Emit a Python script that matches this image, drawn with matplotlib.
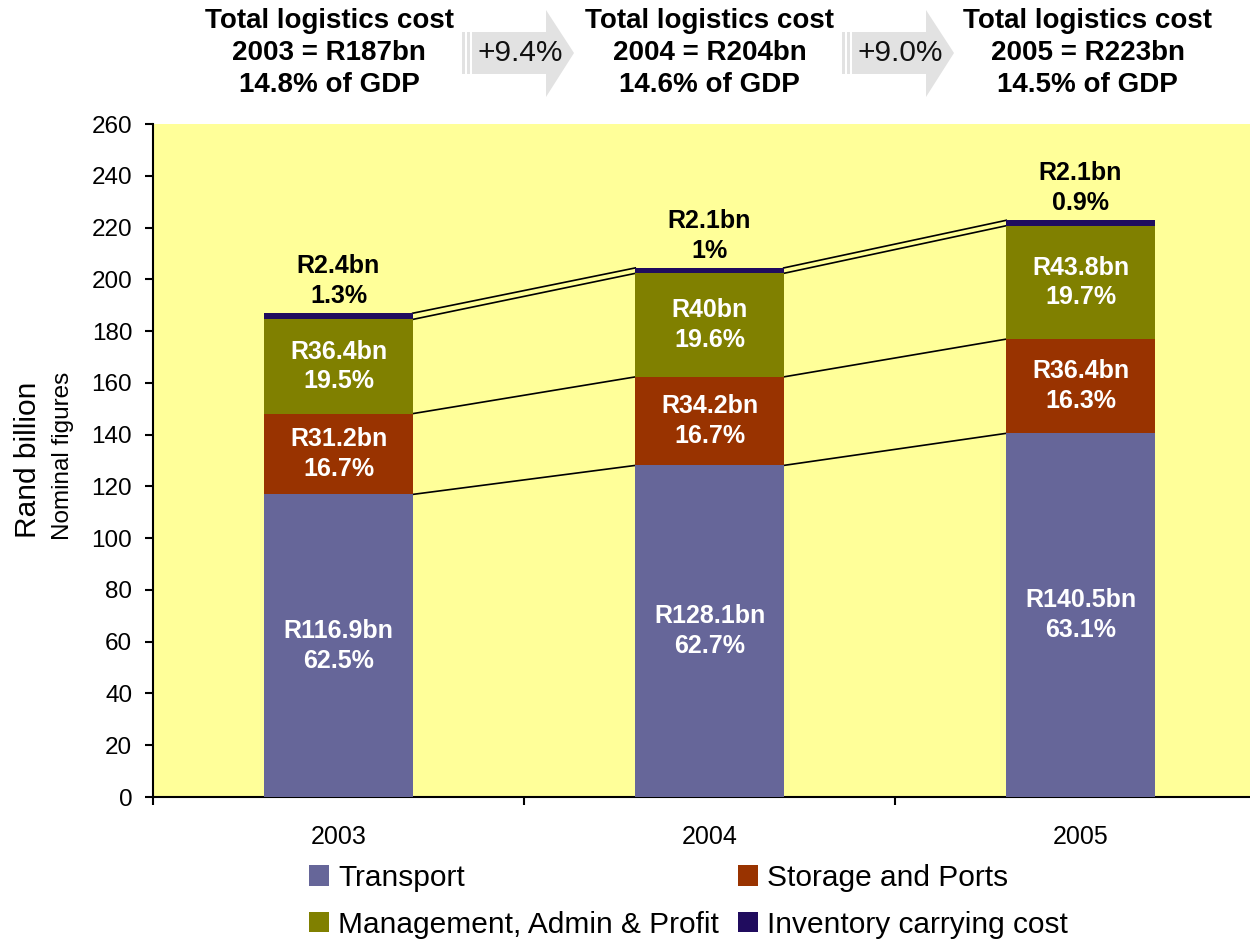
import numpy as np
import matplotlib
matplotlib.use('Agg')
import matplotlib.pyplot as plt
from matplotlib.patches import Polygon, Rectangle, Patch
from matplotlib.transforms import blended_transform_factory

plt.rcParams['font.family'] = ['Liberation Sans', 'DejaVu Sans']

# data
years = ['2003', '2004', '2005']
transport = [116.9, 128.1, 140.5]
storage = [31.2, 34.2, 36.4]
management = [36.4, 40.0, 43.8]
inventory = [2.4, 2.1, 2.1]

transport_lbl = ['R116.9bn\n62.5%', 'R128.1bn\n62.7%', 'R140.5bn\n63.1%']
storage_lbl = ['R31.2bn\n16.7%', 'R34.2bn\n16.7%', 'R36.4bn\n16.3%']
management_lbl = ['R36.4bn\n19.5%', 'R40bn\n19.6%', 'R43.8bn\n19.7%']
inventory_lbl = ['R2.4bn\n1.3%', 'R2.1bn\n1%', 'R2.1bn\n0.9%']

header_lbl = ['Total logistics cost\n2003 = R187bn\n14.8% of GDP',
              'Total logistics cost\n2004 = R204bn\n14.6% of GDP',
              'Total logistics cost\n2005 = R223bn\n14.5% of GDP']
growth_lbl = ['+9.4%', '+9.0%']

series_names = ['Transport', 'Storage and Ports',
                'Management, Admin & Profit', 'Inventory carrying cost']
colors = ['#666699', '#993300', '#808000', '#200C5E']

W, H = 1250, 940
fig = plt.figure(figsize=(W / 100, H / 100), dpi=100)
ax = fig.add_axes([153 / W, 1 - 797 / H, 1113 / W, 673 / H])
ax.set_facecolor('#FFFF99')

x = np.arange(len(years))
bw = 0.4
stacks = [transport, storage, management, inventory]
bottoms = np.zeros(len(years))
tops = []
for vals, col in zip(stacks, colors):
    vals = np.array(vals)
    ax.bar(x, vals, bw, bottom=bottoms, color=col, edgecolor='none', zorder=3)
    bottoms = bottoms + vals
    tops.append(bottoms.copy())

# labels inside segments
base = np.zeros(len(years))
for vals, lbls in zip(stacks[:3], [transport_lbl, storage_lbl, management_lbl]):
    for i in range(len(years)):
        ax.text(x[i], base[i] + vals[i] / 2, lbls[i], ha='center', va='center',
                color='white', fontsize=18, fontweight='bold', linespacing=1.3,
                zorder=4)
    base = base + np.array(vals)

total = tops[-1]
for i in range(len(years)):
    ax.text(x[i], total[i] + 2.0, inventory_lbl[i], ha='center', va='bottom',
            color='black', fontsize=18, fontweight='bold', linespacing=1.3, zorder=4)

# connector lines between bars
for lev in tops:
    for i in range(len(years) - 1):
        ax.plot([x[i] + bw / 2, x[i + 1] - bw / 2], [lev[i], lev[i + 1]],
                color='black', lw=1.2, zorder=2)

ax.set_xlim(-0.5, 2.5)
ax.set_ylim(0, 260)
ax.set_yticks(np.arange(0, 261, 20))
ax.set_xticks([-0.5, 0.5, 1.5, 2.5])
ax.set_xticklabels([])
ax.set_xticks(x, minor=True)
ax.set_xticklabels(years, minor=True)
ax.tick_params(axis='x', which='minor', length=0, pad=20, labelsize=18)
ax.tick_params(axis='x', which='major', length=6, width=1.5, direction='out')
ax.tick_params(axis='y', length=6, width=1.5, direction='out', pad=9, labelsize=17.5)
for s in ['top', 'right']:
    ax.spines[s].set_visible(False)
for s in ['left', 'bottom']:
    ax.spines[s].set_linewidth(1.5)

fig.text(28 / W, 1 - 460 / H, 'Rand billion', rotation=90, ha='center', va='center',
         fontsize=21.5)
fig.text(63 / W, 1 - 456 / H, 'Nominal figures', rotation=90, ha='center', va='center',
         fontsize=17.5)

# header texts
trans = blended_transform_factory(ax.transData, fig.transFigure)
header_shift = [-0.025, 0.0, 0.02]
for i in range(len(years)):
    ax.text(x[i] + header_shift[i], 1 - 53 / H, header_lbl[i], transform=trans,
            ha='center', va='center', fontsize=20, fontweight='bold', linespacing=1.32)


# growth arrows (pixel coordinates converted to figure fraction)
def px(pts):
    return [(a / W, 1 - b / H) for a, b in pts]


for x0, lbl in zip([462, 842], growth_lbl):
    body = [(x0 + 10, 32), (x0 + 84, 32), (x0 + 84, 10), (x0 + 112, 53),
            (x0 + 84, 97), (x0 + 84, 74), (x0 + 10, 74)]
    fig.patches.append(Polygon(px(body), closed=True, transform=fig.transFigure,
                               facecolor='#E2E2E2', edgecolor='none'))
    for sx in [x0, x0 + 5]:
        r = px([(sx, 74)])[0]
        fig.patches.append(Rectangle(r, 3 / W, 42 / H, transform=fig.transFigure,
                                     facecolor='#E2E2E2', edgecolor='none'))
    fig.text((x0 + 58) / W, 1 - 53 / H, lbl, ha='center', va='center',
             fontsize=21.5, color='#111111')

handles = [Patch(facecolor=c, edgecolor='none') for c in colors]
order = [0, 2, 1, 3]
fig.legend([handles[k] for k in order], [series_names[k] for k in order],
           ncol=2, loc='upper left', bbox_to_anchor=(309 / W, 1 - 864 / H),
           frameon=False, fontsize=21.5, handlelength=0.67, handleheight=0.67,
           handletextpad=0.3, columnspacing=0.65, labelspacing=0.62,
           borderpad=0, borderaxespad=0)

fig.savefig('out.png', dpi=100)
